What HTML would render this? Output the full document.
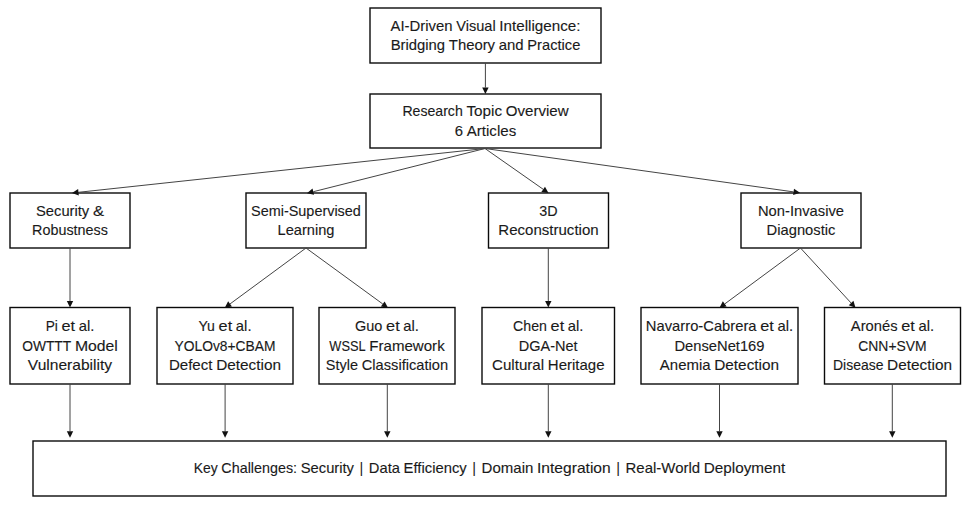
<!DOCTYPE html>
<html><head><meta charset="utf-8"><style>
html,body{margin:0;padding:0;background:#fff;}
svg{display:block;}
text{font-family:"Liberation Sans",sans-serif;font-size:14.3px;fill:#1a1a1a;stroke:#1a1a1a;stroke-width:0.12;text-anchor:start;}
.b{fill:none;stroke:#0a0a0a;stroke-width:1.4;}
.l{stroke:#444;stroke-width:1;}
.h{fill:#111;}
</style></head><body>
<svg width="971" height="506" viewBox="0 0 971 506">
<rect x="370" y="8" width="231" height="55" class="b"/>
<text x="390.57" y="30.90" textLength="61.98" lengthAdjust="spacingAndGlyphs">AI-Driven</text>
<text x="456.22" y="30.90" textLength="39.42" lengthAdjust="spacingAndGlyphs">Visual</text>
<text x="499.32" y="30.90" textLength="81.11" lengthAdjust="spacingAndGlyphs">Intelligence:</text>
<text x="390.69" y="50.40" textLength="54.45" lengthAdjust="spacingAndGlyphs">Bridging</text>
<text x="448.82" y="50.40" textLength="46.24" lengthAdjust="spacingAndGlyphs">Theory</text>
<text x="498.74" y="50.40" textLength="24.90" lengthAdjust="spacingAndGlyphs">and</text>
<text x="527.33" y="50.40" textLength="52.98" lengthAdjust="spacingAndGlyphs">Practice</text>
<rect x="370" y="94" width="231" height="54" class="b"/>
<text x="402.40" y="116.40" textLength="60.36" lengthAdjust="spacingAndGlyphs">Research</text>
<text x="466.44" y="116.40" textLength="35.69" lengthAdjust="spacingAndGlyphs">Topic</text>
<text x="505.81" y="116.40" textLength="62.79" lengthAdjust="spacingAndGlyphs">Overview</text>
<text x="454.83" y="135.90" textLength="8.26" lengthAdjust="spacingAndGlyphs">6</text>
<text x="466.77" y="135.90" textLength="49.40" lengthAdjust="spacingAndGlyphs">Articles</text>
<rect x="10" y="193" width="120" height="55" class="b"/>
<text x="35.97" y="215.90" textLength="53.28" lengthAdjust="spacingAndGlyphs">Security</text>
<text x="92.93" y="215.90" textLength="11.11" lengthAdjust="spacingAndGlyphs">&amp;</text>
<text x="32.12" y="235.40" textLength="75.76" lengthAdjust="spacingAndGlyphs">Robustness</text>
<rect x="246" y="193" width="120" height="55" class="b"/>
<text x="251.09" y="215.90" textLength="109.81" lengthAdjust="spacingAndGlyphs">Semi-Supervised</text>
<text x="277.53" y="235.40" textLength="56.94" lengthAdjust="spacingAndGlyphs">Learning</text>
<rect x="488.5" y="193" width="120.0" height="55" class="b"/>
<text x="539.36" y="215.90" textLength="18.28" lengthAdjust="spacingAndGlyphs">3D</text>
<text x="498.37" y="235.40" textLength="100.25" lengthAdjust="spacingAndGlyphs">Reconstruction</text>
<rect x="741" y="193" width="120" height="55" class="b"/>
<text x="757.98" y="215.90" textLength="86.03" lengthAdjust="spacingAndGlyphs">Non-Invasive</text>
<text x="766.60" y="235.40" textLength="68.80" lengthAdjust="spacingAndGlyphs">Diagnostic</text>
<rect x="10" y="307.5" width="120" height="76.5" class="b"/>
<text x="45.64" y="331.40" textLength="12.15" lengthAdjust="spacingAndGlyphs">Pi</text>
<text x="61.47" y="331.40" textLength="13.57" lengthAdjust="spacingAndGlyphs">et</text>
<text x="78.72" y="331.40" textLength="15.64" lengthAdjust="spacingAndGlyphs">al.</text>
<text x="22.17" y="350.90" textLength="49.08" lengthAdjust="spacingAndGlyphs">OWTTT</text>
<text x="74.93" y="350.90" textLength="42.90" lengthAdjust="spacingAndGlyphs">Model</text>
<text x="27.88" y="370.40" textLength="84.24" lengthAdjust="spacingAndGlyphs">Vulnerability</text>
<rect x="157" y="307.5" width="136" height="76.5" class="b"/>
<text x="198.47" y="331.40" textLength="16.48" lengthAdjust="spacingAndGlyphs">Yu</text>
<text x="218.64" y="331.40" textLength="13.57" lengthAdjust="spacingAndGlyphs">et</text>
<text x="235.89" y="331.40" textLength="15.64" lengthAdjust="spacingAndGlyphs">al.</text>
<text x="174.52" y="350.90" textLength="100.97" lengthAdjust="spacingAndGlyphs">YOLOv8+CBAM</text>
<text x="168.93" y="370.40" textLength="43.55" lengthAdjust="spacingAndGlyphs">Defect</text>
<text x="216.16" y="370.40" textLength="64.91" lengthAdjust="spacingAndGlyphs">Detection</text>
<rect x="319" y="307.5" width="136" height="76.5" class="b"/>
<text x="355.01" y="331.40" textLength="27.41" lengthAdjust="spacingAndGlyphs">Guo</text>
<text x="386.10" y="331.40" textLength="13.57" lengthAdjust="spacingAndGlyphs">et</text>
<text x="403.35" y="331.40" textLength="15.64" lengthAdjust="spacingAndGlyphs">al.</text>
<text x="329.31" y="350.90" textLength="36.29" lengthAdjust="spacingAndGlyphs">WSSL</text>
<text x="369.28" y="350.90" textLength="75.41" lengthAdjust="spacingAndGlyphs">Framework</text>
<text x="325.89" y="370.40" textLength="32.15" lengthAdjust="spacingAndGlyphs">Style</text>
<text x="361.72" y="370.40" textLength="86.39" lengthAdjust="spacingAndGlyphs">Classification</text>
<rect x="482" y="307.5" width="132.5" height="76.5" class="b"/>
<text x="513.02" y="331.40" textLength="33.90" lengthAdjust="spacingAndGlyphs">Chen</text>
<text x="550.60" y="331.40" textLength="13.57" lengthAdjust="spacingAndGlyphs">et</text>
<text x="567.84" y="331.40" textLength="15.64" lengthAdjust="spacingAndGlyphs">al.</text>
<text x="518.85" y="350.90" textLength="58.80" lengthAdjust="spacingAndGlyphs">DGA-Net</text>
<text x="491.96" y="370.40" textLength="52.19" lengthAdjust="spacingAndGlyphs">Cultural</text>
<text x="547.83" y="370.40" textLength="56.71" lengthAdjust="spacingAndGlyphs">Heritage</text>
<rect x="641" y="307.5" width="157" height="76.5" class="b"/>
<text x="645.85" y="331.40" textLength="110.74" lengthAdjust="spacingAndGlyphs">Navarro-Cabrera</text>
<text x="760.27" y="331.40" textLength="13.57" lengthAdjust="spacingAndGlyphs">et</text>
<text x="777.52" y="331.40" textLength="15.64" lengthAdjust="spacingAndGlyphs">al.</text>
<text x="674.49" y="350.90" textLength="90.02" lengthAdjust="spacingAndGlyphs">DenseNet169</text>
<text x="659.89" y="370.40" textLength="50.64" lengthAdjust="spacingAndGlyphs">Anemia</text>
<text x="714.21" y="370.40" textLength="64.91" lengthAdjust="spacingAndGlyphs">Detection</text>
<rect x="824.5" y="307.5" width="136.0" height="76.5" class="b"/>
<text x="850.85" y="331.40" textLength="46.73" lengthAdjust="spacingAndGlyphs">Aronés</text>
<text x="901.26" y="331.40" textLength="13.57" lengthAdjust="spacingAndGlyphs">et</text>
<text x="918.51" y="331.40" textLength="15.64" lengthAdjust="spacingAndGlyphs">al.</text>
<text x="858.26" y="350.90" textLength="68.47" lengthAdjust="spacingAndGlyphs">CNN+SVM</text>
<text x="832.95" y="370.40" textLength="50.51" lengthAdjust="spacingAndGlyphs">Disease</text>
<text x="887.14" y="370.40" textLength="64.91" lengthAdjust="spacingAndGlyphs">Detection</text>
<rect x="33" y="441" width="913" height="55" class="b"/>
<text x="193.73" y="473.15" textLength="23.96" lengthAdjust="spacingAndGlyphs">Key</text>
<text x="221.37" y="473.15" textLength="75.67" lengthAdjust="spacingAndGlyphs">Challenges:</text>
<text x="300.72" y="473.15" textLength="53.28" lengthAdjust="spacingAndGlyphs">Security</text>
<text x="361.43" y="472.55" style="text-anchor:middle;font-size:14.5px;stroke-width:0">|</text>
<text x="368.85" y="473.15" textLength="31.08" lengthAdjust="spacingAndGlyphs">Data</text>
<text x="403.61" y="473.15" textLength="63.16" lengthAdjust="spacingAndGlyphs">Efficiency</text>
<text x="474.21" y="472.55" style="text-anchor:middle;font-size:14.5px;stroke-width:0">|</text>
<text x="481.63" y="473.15" textLength="51.70" lengthAdjust="spacingAndGlyphs">Domain</text>
<text x="537.01" y="473.15" textLength="73.70" lengthAdjust="spacingAndGlyphs">Integration</text>
<text x="618.14" y="472.55" style="text-anchor:middle;font-size:14.5px;stroke-width:0">|</text>
<text x="625.57" y="473.15" textLength="74.52" lengthAdjust="spacingAndGlyphs">Real-World</text>
<text x="703.77" y="473.15" textLength="81.51" lengthAdjust="spacingAndGlyphs">Deployment</text>
<line x1="485.40" y1="63.00" x2="485.40" y2="87.50" class="l"/><polygon points="485.40,94.00 482.20,87.50 488.60,87.50" class="h"/>
<line x1="485.00" y1="148.50" x2="78.46" y2="192.30" class="l"/><polygon points="72.00,193.00 78.12,189.12 78.81,195.49" class="h"/>
<line x1="485.00" y1="148.50" x2="313.30" y2="191.71" class="l"/><polygon points="307.00,193.30 312.52,188.61 314.08,194.82" class="h"/>
<line x1="485.00" y1="148.50" x2="543.18" y2="189.27" class="l"/><polygon points="548.50,193.00 541.34,191.89 545.01,186.65" class="h"/>
<line x1="485.00" y1="148.50" x2="793.56" y2="191.89" class="l"/><polygon points="800.00,192.80 793.12,195.06 794.01,188.73" class="h"/>
<line x1="70.00" y1="248.00" x2="70.00" y2="301.00" class="l"/><polygon points="70.00,307.50 66.80,301.00 73.20,301.00" class="h"/>
<line x1="306.00" y1="248.00" x2="230.03" y2="303.95" class="l"/><polygon points="224.80,307.80 228.14,301.37 231.93,306.52" class="h"/>
<line x1="306.00" y1="248.00" x2="382.75" y2="303.97" class="l"/><polygon points="388.00,307.80 380.86,306.56 384.63,301.38" class="h"/>
<line x1="548.30" y1="248.00" x2="548.30" y2="301.00" class="l"/><polygon points="548.30,307.50 545.10,301.00 551.50,301.00" class="h"/>
<line x1="800.50" y1="248.00" x2="724.73" y2="303.94" class="l"/><polygon points="719.50,307.80 722.83,301.36 726.63,306.51" class="h"/>
<line x1="800.50" y1="248.00" x2="851.10" y2="303.02" class="l"/><polygon points="855.50,307.80 848.74,305.18 853.46,300.85" class="h"/>
<line x1="70.00" y1="384.00" x2="70.00" y2="431.30" class="l"/><polygon points="70.00,437.80 66.80,431.30 73.20,431.30" class="h"/>
<line x1="225.10" y1="384.00" x2="225.10" y2="431.30" class="l"/><polygon points="225.10,437.80 221.90,431.30 228.30,431.30" class="h"/>
<line x1="387.30" y1="384.00" x2="387.30" y2="431.30" class="l"/><polygon points="387.30,437.80 384.10,431.30 390.50,431.30" class="h"/>
<line x1="548.30" y1="384.00" x2="548.30" y2="431.30" class="l"/><polygon points="548.30,437.80 545.10,431.30 551.50,431.30" class="h"/>
<line x1="719.50" y1="384.00" x2="719.50" y2="431.30" class="l"/><polygon points="719.50,437.80 716.30,431.30 722.70,431.30" class="h"/>
<line x1="892.30" y1="384.00" x2="892.30" y2="431.30" class="l"/><polygon points="892.30,437.80 889.10,431.30 895.50,431.30" class="h"/>
</svg></body></html>
